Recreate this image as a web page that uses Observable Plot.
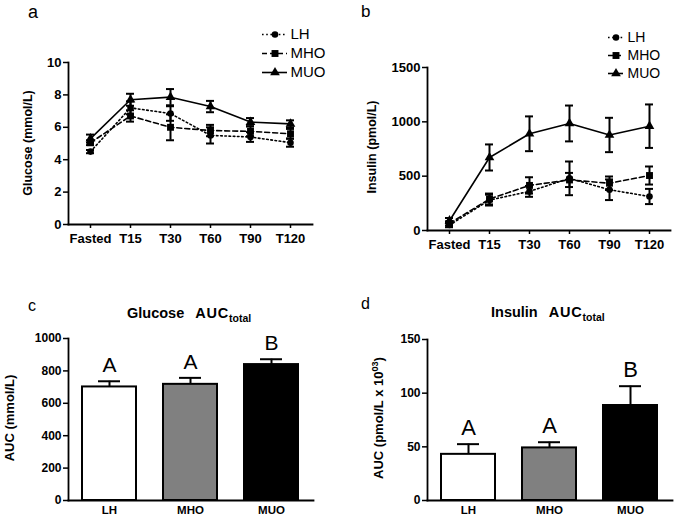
<!DOCTYPE html>
<html>
<head>
<meta charset="utf-8">
<script src="https://cdn.jsdelivr.net/npm/d3@7"></script>
<script src="https://cdn.jsdelivr.net/npm/@observablehq/plot@0.6"></script>
<style>
html, body { margin: 0; padding: 0; background: #fff; }
#fig { position: relative; width: 675px; height: 517px; overflow: hidden; background: #fff;
  font-family: "Liberation Sans", Arial, Helvetica, sans-serif; color: #000; }
#fig svg { overflow: visible; }
</style>
</head>
<body>
<div id="fig"></div>
<script>
// ---------- data ----------
const timepoints = ["Fasted", "T15", "T30", "T60", "T90", "T120"];
const groups = ["LH", "MHO", "MUO"];

// Panel a: glucose (mmol/L), mean and error
const glucoseLH = [4.5, 7.2, 6.85, 5.5, 5.4, 5.05];
const glucoseLHErr = [0.1, 0.4, 0.45, 0.5, 0.3, 0.25];
const glucoseMHO = [5.05, 6.7, 6.0, 5.8, 5.75, 5.6];
const glucoseMHOErr = [0.15, 0.35, 0.8, 0.35, 0.3, 0.3];
const glucoseMUO = [5.3, 7.7, 7.86, 7.28, 6.32, 6.21];
const glucoseMUOErr = [0.25, 0.37, 0.5, 0.35, 0.25, 0.22];
const glucoseTicks = [0, 2, 4, 6, 8, 10];

// Panel b: insulin (pmol/L), mean and error
const insulinLH = [50, 280, 360, 480, 375, 313];
const insulinLHErr = [20, 50, 50, 155, 95, 70];
const insulinMHO = [65, 290, 415, 465, 435, 506];
const insulinMHOErr = [20, 50, 75, 65, 62, 83];
const insulinMUO = [90, 672, 890, 985, 879, 960];
const insulinMUOErr = [25, 120, 160, 165, 158, 200];
const insulinTicks = [0, 500, 1000, 1500];

// Panel c: glucose AUC total
const glucoseAUC = [701, 717, 839];
const glucoseAUCErr = [35, 40, 33];
const glucoseAUCLetters = ["A", "A", "B"];
const glucoseAUCTicks = [0, 200, 400, 600, 800, 1000];

// Panel d: insulin AUC total (x 10^3)
const insulinAUC = [43, 49, 88.5];
const insulinAUCErr = [9.5, 5.3, 18];
const insulinAUCLetters = ["A", "A", "B"];
const insulinAUCTicks = [0, 50, 100, 150];

// ---------- styles ----------
const FONT = '"Liberation Sans", Arial, Helvetica, sans-serif';
const seriesStyle = {
  LH:  {dash: "1.6,2.6", symbol: "circle", r: 3.3},
  MHO: {dash: "5,3", symbol: "square", r: 3.9},
  MUO: {dash: undefined, symbol: "triangle", r: 3.6}
};
const barFills = ["#ffffff", "#808080", "#000000"];
const intFormat = d3.format("d");

const fig = document.getElementById("fig");
function place(node, left, top) {
  node.style.position = "absolute";
  node.style.left = left + "px";
  node.style.top = top + "px";
  fig.appendChild(node);
}
function addText(html, left, baseline, fs, extra = {}) {
  const d = document.createElement("div");
  d.innerHTML = html;
  Object.assign(d.style, {position: "absolute", left: left + "px", top: (baseline - 0.8465 * fs) + "px",
    fontSize: fs + "px", lineHeight: "1", whiteSpace: "nowrap", fontFamily: FONT}, extra);
  fig.appendChild(d);
}
function addYLabel(html, cx, cy, fs) {
  const d = document.createElement("div");
  d.innerHTML = html;
  Object.assign(d.style, {position: "absolute", left: cx + "px", top: cy + "px", fontSize: fs + "px",
    lineHeight: "1", whiteSpace: "nowrap", fontFamily: FONT, fontWeight: "bold",
    transform: "translate(-50%, -50%) rotate(-90deg)"});
  fig.appendChild(d);
}

function lineChart(cfg) {
  const rows = groups.flatMap(g => timepoints.map((t, i) => ({group: g, time: t, value: cfg.means[g][i], err: cfg.errs[g][i]})));
  const byGroup = g => rows.filter(r => r.group === g);
  return Plot.plot({
    width: cfg.width, height: cfg.height,
    marginLeft: cfg.ml, marginRight: cfg.mr, marginTop: cfg.mt, marginBottom: cfg.mb,
    x: {type: "point", domain: timepoints, padding: 0.5},
    y: {domain: cfg.yDomain},
    style: {fontFamily: FONT, fontSize: "13px", fontWeight: "bold", color: "black", background: "transparent"},
    marks: [
      ...groups.map(g => Plot.line(byGroup(g), {x: "time", y: "value", stroke: "black", strokeWidth: 1.6, strokeDasharray: seriesStyle[g].dash})),
      Plot.ruleX(rows, {x: "time", y1: d => d.value - d.err, y2: d => d.value + d.err, stroke: "black", strokeWidth: 2}),
      Plot.ruleY(rows, {x1: "time", x2: "time", y: d => d.value + d.err, insetLeft: -4, insetRight: -4, stroke: "black", strokeWidth: 2}),
      Plot.ruleY(rows, {x1: "time", x2: "time", y: d => d.value - d.err, insetLeft: -4, insetRight: -4, stroke: "black", strokeWidth: 2}),
      ...groups.map(g => Plot.dot(byGroup(g), {x: "time", y: "value", symbol: seriesStyle[g].symbol, r: seriesStyle[g].r, fill: "black", stroke: "none"})),
      Plot.frame({anchor: "left", strokeWidth: 1.8}),
      Plot.frame({anchor: "bottom", strokeWidth: 1.8}),
      Plot.axisX({tickSize: 4, tickPadding: 5, strokeWidth: 1.5, fontSize: 13, fontWeight: "bold", label: null}),
      Plot.axisY({ticks: cfg.yTicks, tickFormat: intFormat, tickSize: 5, tickPadding: 2, strokeWidth: 1.5, fontSize: 13, fontWeight: "bold", label: null})
    ]
  });
}

function legendPlot(cfg) {
  return Plot.plot({
    width: cfg.width, height: cfg.height, margin: 0,
    x: {domain: [0, 1], range: cfg.xRange, axis: null},
    y: {type: "point", domain: groups, range: cfg.yRange, padding: 0, axis: null},
    style: {fontFamily: FONT, fontSize: cfg.fontSize + "px", color: "black", background: "transparent"},
    marks: [
      ...groups.map(g => Plot.ruleY([g], {y: d => d, x1: () => 0, x2: () => 1, stroke: "black", strokeWidth: 1.6, strokeDasharray: seriesStyle[g].dash})),
      ...groups.map(g => Plot.dot([g], {x: () => 0.5, y: d => d, symbol: seriesStyle[g].symbol, r: seriesStyle[g].r, fill: "black", stroke: "none"})),
      Plot.text(groups, {x: () => 1, y: d => d, text: d => d, textAnchor: "start", dx: cfg.dx, fontSize: cfg.fontSize, fontWeight: "normal"})
    ]
  });
}

function barChart(cfg) {
  const rows = groups.map((g, i) => ({group: g, value: cfg.values[i], err: cfg.errs[i], letter: cfg.letters[i]}));
  return Plot.plot({
    width: cfg.width, height: cfg.height,
    marginLeft: cfg.ml, marginRight: cfg.mr, marginTop: cfg.mt, marginBottom: cfg.mb,
    x: {type: "band", domain: groups, paddingInner: 0.33, paddingOuter: 0.16},
    y: {domain: cfg.yDomain},
    color: {domain: groups, range: barFills},
    style: {fontFamily: FONT, fontSize: "12px", fontWeight: "bold", color: "black", background: "transparent"},
    marks: [
      Plot.ruleX(rows, {x: "group", y1: "value", y2: d => d.value + d.err, stroke: "black", strokeWidth: 2}),
      Plot.tickY(rows, {x: "group", y: d => d.value + d.err, insetLeft: 16, insetRight: 16, stroke: "black", strokeWidth: 2}),
      Plot.barY(rows, {x: "group", y: "value", fill: "group", stroke: "black", strokeWidth: 2}),
      Plot.text(rows, {x: "group", y: d => d.value + d.err, text: "letter", lineAnchor: "bottom", dy: -9, fontSize: cfg.letterSize, fontWeight: "normal"}),
      Plot.frame({anchor: "left", strokeWidth: 1.8}),
      Plot.frame({anchor: "bottom", strokeWidth: 1.8}),
      Plot.axisX({tickSize: 0, tickPadding: 5, fontSize: 11.5, fontWeight: "bold", label: null}),
      Plot.axisY({ticks: cfg.yTicks, tickFormat: intFormat, tickSize: 5, tickPadding: 2, strokeWidth: 1.5, fontSize: 12, fontWeight: "bold", label: null})
    ]
  });
}

// ---------- panel a ----------
place(lineChart({
  means: {LH: glucoseLH, MHO: glucoseMHO, MUO: glucoseMUO},
  errs: {LH: glucoseLHErr, MHO: glucoseMHOErr, MUO: glucoseMUOErr},
  yDomain: [0, 10], yTicks: glucoseTicks,
  width: 337, height: 258, ml: 68, mr: 25, mt: 62, mb: 34
}), 0, 0);
place(legendPlot({width: 80, height: 60, xRange: [7, 32], yRange: [10.3, 49], fontSize: 15, dx: 3}), 255, 23);
addText("a", 28, 18, 18);
addYLabel("Glucose (mmol/L)", 28, 143, 12.5);

// ---------- panel b ----------
place(lineChart({
  means: {LH: insulinLH, MHO: insulinMHO, MUO: insulinMUO},
  errs: {LH: insulinLHErr, MHO: insulinMHOErr, MUO: insulinMUOErr},
  yDomain: [0, 1500], yTicks: insulinTicks,
  width: 337, height: 258, ml: 89, mr: 5, mt: 67, mb: 28
}), 338, 0);
place(legendPlot({width: 75, height: 60, xRange: [8, 23], yRange: [9.7, 46.3], fontSize: 14, dx: 4}), 600, 27);
addText("b", 361, 17.3, 17);
addYLabel("Insulin (pmol/L)", 372, 147, 12.5);

// ---------- panel c ----------
place(barChart({
  values: glucoseAUC, errs: glucoseAUCErr, letters: glucoseAUCLetters,
  yDomain: [0, 1000], yTicks: glucoseAUCTicks, letterSize: 21,
  width: 337, height: 257, ml: 68, mr: 24, mt: 78, mb: 17
}), 0, 260);
addText("c", 28, 311.7, 16);
addText('Glucose<span style="margin-left:11px;letter-spacing:0.8px">AUC</span><span style="font-size:10.5px;position:relative;top:3.5px">total</span>', 127, 318.3, 14.5, {fontWeight: "bold"});
addYLabel("AUC (mmol/L)", 9, 418, 13);

// ---------- panel d ----------
place(barChart({
  values: insulinAUC, errs: insulinAUCErr, letters: insulinAUCLetters,
  yDomain: [0, 150], yTicks: insulinAUCTicks, letterSize: 22,
  width: 337, height: 257, ml: 89, mr: 3, mt: 79, mb: 17
}), 338, 260);
addText("d", 361, 309.3, 16);
addText('Insulin<span style="margin-left:11px;letter-spacing:0.8px">AUC</span><span style="font-size:10.5px;position:relative;top:3.5px">total</span>', 491, 317.3, 14.5, {fontWeight: "bold"});
addYLabel('AUC (pmol/L x 10<sup style="font-size:0.7em;vertical-align:0.55em;line-height:0">03</sup>)', 378, 418, 13);
</script>
</body>
</html>
